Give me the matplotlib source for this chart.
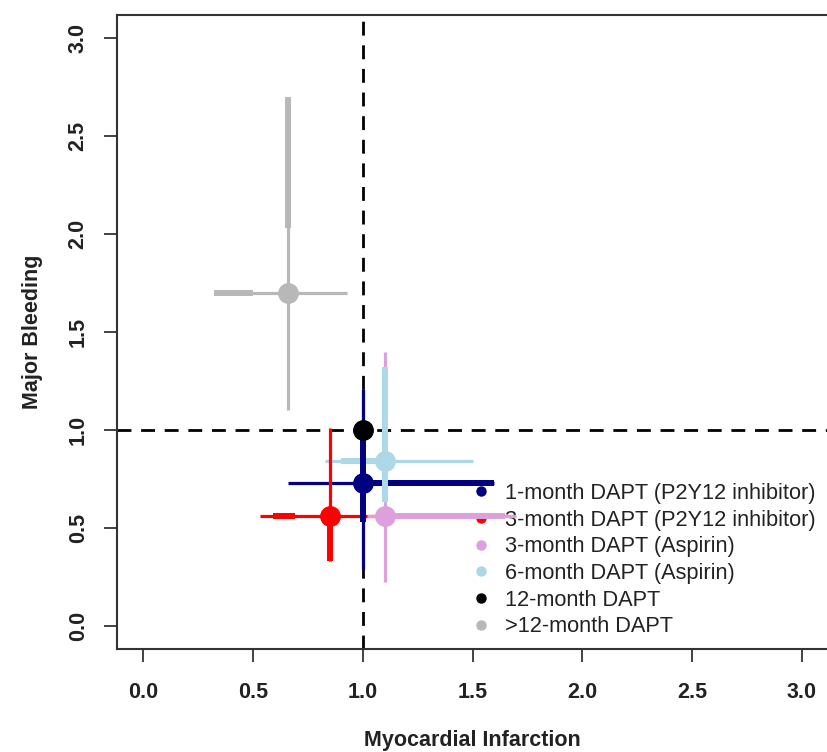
import matplotlib
matplotlib.use("Agg")
import matplotlib.pyplot as plt
from matplotlib.lines import Line2D
import numpy as np

plt.rcParams['font.family'] = ['Liberation Sans', 'DejaVu Sans']

nan = np.nan

# treatments, in legend order
labels = [
    "1-month DAPT (P2Y12 inhibitor)",
    "3-month DAPT (P2Y12 inhibitor)",
    "3-month DAPT (Aspirin)",
    "6-month DAPT (Aspirin)",
    "12-month DAPT",
    ">12-month DAPT",
]
colors = ["#000080", "#FF0000", "#DDA0DD", "#ADD8E6", "#000000", "#B8B8B8"]

# point estimates (MI on x, major bleeding on y)
mi = [1.00, 0.85, 1.10, 1.10, 1.00, 0.66]
bleed = [0.73, 0.56, 0.56, 0.84, 1.00, 1.70]

# outer intervals
mi_lo = [0.66, 0.53, 1.02, 0.83, nan, 0.32]
mi_hi = [1.60, 1.09, 1.70, 1.50, nan, 0.93]
bl_lo = [0.29, 0.33, 0.22, 0.63, nan, 1.10]
bl_hi = [1.21, 1.01, 1.40, 1.32, nan, 2.70]

# inner (thicker) parts
mi_in_lo = [1.00, 0.59, 1.10, 0.90, nan, 0.32]
mi_in_hi = [1.60, 0.69, 1.65, 1.10, nan, 0.50]
bl_in_lo = [0.53, 0.33, nan, 0.63, nan, 2.03]
bl_in_hi = [1.00, 0.56, nan, 1.32, nan, 2.70]

ticks = [0.0, 0.5, 1.0, 1.5, 2.0, 2.5, 3.0]

fig = plt.figure(figsize=(8.27, 7.52), dpi=100)
ax = fig.add_axes([117 / 827, 1 - 649 / 752, 711 / 827, 634 / 752])
ax.set_xlim(-0.12, 3.12)
ax.set_ylim(-0.12, 3.12)

dash = (0, (5, 3.5))
ax.axhline(1.0, color="black", lw=2.0, ls=dash, zorder=1)
ax.axvline(1.0, color="black", lw=2.0, ls=dash, zorder=1)

thin, thick = 2.3, 4.3
# horizontal bars first, then vertical ones, then the points
for i, c in enumerate(colors):
    ax.plot([mi_lo[i], mi_hi[i]], [bleed[i], bleed[i]], color=c, lw=thin,
            solid_capstyle="butt", zorder=2)
    ax.plot([mi_in_lo[i], mi_in_hi[i]], [bleed[i], bleed[i]], color=c, lw=thick,
            solid_capstyle="butt", zorder=2)
for i, c in enumerate(colors):
    ax.plot([mi[i], mi[i]], [bl_lo[i], bl_hi[i]], color=c, lw=thin,
            solid_capstyle="butt", zorder=3)
    ax.plot([mi[i], mi[i]], [bl_in_lo[i], bl_in_hi[i]], color=c, lw=thick,
            solid_capstyle="butt", zorder=3)
for i, c in enumerate(colors):
    ax.plot(mi[i], bleed[i], "o", color=c, markersize=14, zorder=4 if i != 4 else 5)

ax.set_xticks(ticks)
ax.set_yticks(ticks)
ax.set_xticklabels([f"{t:.1f}" for t in ticks], fontweight="bold")
ax.set_yticklabels([f"{t:.1f}" for t in ticks], fontweight="bold",
                   rotation=90, va="center")
ax.tick_params(direction="out", length=9.4, width=1.2, labelsize=15.5,
               colors="#222222")
ax.tick_params(axis="x", pad=14)
ax.tick_params(axis="y", pad=11)
for sp in ax.spines.values():
    sp.set_color("#333333")
    sp.set_linewidth(1.5)
ax.spines["right"].set_visible(False)  # box edge falls just outside the picture

ax.set_xlabel("Myocardial Infarction", fontsize=15.5, fontweight="bold",
              labelpad=20, color="#222222")
ax.set_ylabel("Major Bleeding", fontsize=15.5, fontweight="bold",
              labelpad=18, color="#222222")

handles = [Line2D([], [], marker="o", ls="none", color=c, markersize=6.5)
           for c in colors]
leg = ax.legend(handles, labels, loc="upper left", bbox_to_anchor=(0.4998, 0.262),
                frameon=False, fontsize=15.7, handlelength=0.8,
                handletextpad=0.7, labelspacing=0.26, borderaxespad=0,
                borderpad=0)
for t in leg.get_texts():
    t.set_color("#222222")
leg.set_zorder(1.5)

fig.savefig("out.png", dpi=100)
